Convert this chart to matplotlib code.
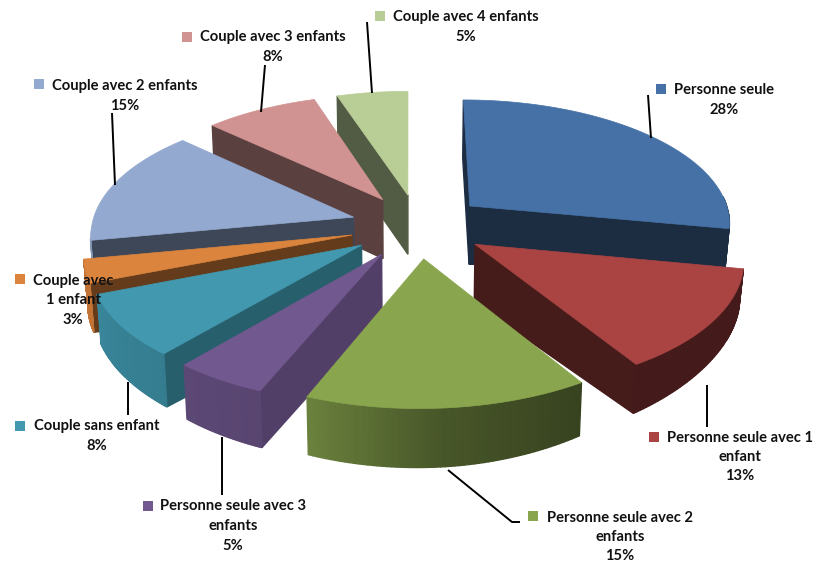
import numpy as np
import matplotlib
matplotlib.use('Agg')
import matplotlib.pyplot as plt

plt.rcParams['font.family'] = ['Lato', 'DejaVu Sans']

categories = ['Personne seule', 'Personne seule avec 1\nenfant',
              'Personne seule avec 2\nenfants', 'Personne seule avec 3\nenfants',
              'Couple sans enfant', 'Couple avec\n1 enfant',
              'Couple avec 2 enfants', 'Couple avec 3 enfants',
              'Couple avec 4 enfants']
values = [28, 13, 15, 5, 8, 3, 15, 8, 5]
colors = ['#4571A6', '#A94442', '#89A54E', '#71588F', '#4198AF',
          '#DB843D', '#93A9CF', '#D19392', '#B9CD96']

# label block centre, legend square, leader line (pixels of the 819x563 picture)
label_pos = [(724, 100), (740, 457), (620, 537), (233, 526), (97, 436),
             (73, 300), (125, 96), (273, 47), (466, 27)]
key_pos = [(661, 89), (654, 437), (533, 516), (148, 506), (20, 426),
           (20, 279), (39, 84), (187, 37), (380, 16)]
leaders = [[(648, 95), (651, 138)], [(707, 385), (707, 427)],
           [(448, 470), (512, 522), (520, 522)], [(222, 437), (222, 495)],
           [(128, 382), (128, 415)], [],
           [(112, 113), (115, 185)], [(265, 65), (261, 112)],
           [(367, 22), (372, 93)]]

cx, cy = 418.5, 226
rx, ry = 262, 123.2
dist = 8.37
explode = 0.26
skew_front, skew_back = 5.5, 1.0


def project(X, Y):
  s = dist/(dist + Y)
  skew = skew_back if Y > 0 else skew_front
  return cx + rx*X*s - skew*abs(Y), cy - ry*Y*s


def drop(sx, sy):
  # the side walls get shorter towards the far left and right
  u = (sx - 410)/320
  depth = 59 - (20 if u > 0 else 10)*u**2
  return sx - (sx - 410)*0.0125, sy + depth


def shade(color, f):
  return tuple(c*f for c in matplotlib.colors.to_rgb(color))


def outer_shade(a):
  return np.interp(a, [100, 147, 175, 201, 250], [0.40, 0.40, 0.52, 0.78, 0.88])


def edge_shade(a):
  return np.interp(a, [100, 147, 201, 220, 255, 360],
                   [0.40, 0.41, 0.72, 0.62, 0.42, 0.45])


def quad(ax, p0, p1, color, z):
  b0, b1 = drop(*p0), drop(*p1)
  xs = [p0[0], p1[0], b1[0], b0[0]]
  ys = [p0[1], p1[1], b1[1], b0[1]]
  ax.fill(xs, ys, color=color, lw=1.0, zorder=z)


fig = plt.figure(figsize=(8.19, 5.63), dpi=100)
ax = fig.add_axes([0, 0, 1, 1])
ax.set_xlim(0, 819)
ax.set_ylim(563, 0)
ax.axis('off')

total = float(sum(values))
edges = np.cumsum([0] + values)/total*360
mids = (edges[:-1] + edges[1:])/2
# painter's order: far slices first
order = np.argsort(-np.cos(np.radians(mids)))

z = 1
for i in order:
  a0, a1, am = edges[i], edges[i+1], np.radians(mids[i])
  ox, oy = explode*np.sin(am), explode*np.cos(am)
  angles = np.linspace(a0, a1, 60)
  t = np.radians(angles)
  rim = [project(ox + np.sin(u), oy + np.cos(u)) for u in t]
  apex = project(ox, oy)

  # only the walls that face the viewer
  if a0 >= 180 or a0 == 0:
    quad(ax, apex, rim[0], shade(colors[i], edge_shade(a0)), z)
  if a1 <= 180:
    quad(ax, apex, rim[-1], shade(colors[i], edge_shade(a1)), z)
  z += 1
  for j in range(len(rim) - 1):
    if 85 < angles[j] < 260:
      quad(ax, rim[j], rim[j+1], shade(colors[i], outer_shade(angles[j])), z)
  z += 1
  xs = [apex[0]] + [p[0] for p in rim]
  ys = [apex[1]] + [p[1] for p in rim]
  ax.fill(xs, ys, color=colors[i], lw=0.5, zorder=z)
  z += 1

for i in range(len(values)):
  if leaders[i]:
    ax.plot(*zip(*leaders[i]), color='black', lw=1.4, zorder=z, solid_capstyle='butt')
  ax.scatter(*key_pos[i], marker='s', s=48, color=colors[i], linewidths=0, zorder=z)
  ax.text(label_pos[i][0], label_pos[i][1], '%s\n%d%%' % (categories[i], values[i]),
          ha='center', va='center', fontsize=10.6, fontweight='bold', color='#111111',
          linespacing=1.5, zorder=z + 1)

fig.savefig('out.png', dpi=100, facecolor='white')
